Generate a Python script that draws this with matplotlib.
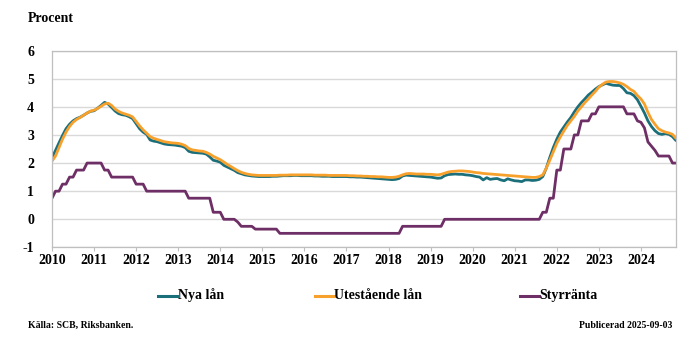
import matplotlib
matplotlib.use("Agg")
import matplotlib.pyplot as plt
from matplotlib.lines import Line2D
import numpy as np

# Monthly series, twelve values per row
nya_lan = [
    2.20, 2.45, 2.72, 2.98, 3.22, 3.38, 3.50, 3.58, 3.63, 3.70, 3.78, 3.84,
    3.86, 3.95, 4.05, 4.16, 4.10, 3.98, 3.85, 3.76, 3.72, 3.70, 3.65, 3.58,
    3.40, 3.22, 3.10, 3.02, 2.82, 2.78, 2.76, 2.72, 2.68, 2.66, 2.65, 2.64,
    2.62, 2.60, 2.55, 2.42, 2.38, 2.37, 2.36, 2.35, 2.32, 2.22, 2.10, 2.07,
    2.03, 1.92, 1.86, 1.80, 1.74, 1.66, 1.62, 1.58, 1.56, 1.54, 1.53, 1.52,
    1.52, 1.52, 1.52, 1.53, 1.53, 1.54, 1.55, 1.55, 1.55, 1.56, 1.56, 1.55,
    1.55, 1.55, 1.55, 1.54, 1.54, 1.53, 1.53, 1.53, 1.52, 1.52, 1.52, 1.52,
    1.52, 1.51, 1.51, 1.50, 1.50, 1.49, 1.48, 1.47, 1.46, 1.45, 1.44, 1.43,
    1.42, 1.41, 1.42, 1.45, 1.54, 1.57, 1.56, 1.55, 1.54, 1.53, 1.52, 1.51,
    1.50, 1.48, 1.46, 1.47, 1.55, 1.59, 1.60, 1.61, 1.60, 1.60, 1.58, 1.57,
    1.55, 1.52, 1.50, 1.40, 1.48, 1.42, 1.44, 1.45, 1.40, 1.37, 1.44, 1.40,
    1.37, 1.36, 1.34, 1.40, 1.40, 1.38, 1.39, 1.42, 1.52, 1.82, 2.20, 2.55,
    2.85, 3.10, 3.28, 3.46, 3.62, 3.82, 4.00, 4.15, 4.28, 4.42, 4.52, 4.63,
    4.72, 4.78, 4.84, 4.80, 4.77, 4.76, 4.76, 4.65, 4.50, 4.48, 4.40, 4.25,
    4.02, 3.78, 3.50, 3.30, 3.15, 3.05, 3.02, 3.05, 3.02, 2.94, 2.80,
]

utestaende_lan = [
    2.07, 2.25, 2.55, 2.85, 3.10, 3.30, 3.45, 3.55, 3.62, 3.70, 3.78, 3.85,
    3.88, 3.94, 4.02, 4.10, 4.13, 4.05, 3.92, 3.84, 3.78, 3.74, 3.70, 3.64,
    3.48, 3.32, 3.18, 3.06, 2.94, 2.88, 2.84, 2.80, 2.76, 2.74, 2.72, 2.71,
    2.70, 2.67, 2.62, 2.52, 2.47, 2.45, 2.43, 2.42, 2.38, 2.32, 2.24, 2.18,
    2.12, 2.04, 1.95, 1.88, 1.80, 1.73, 1.67, 1.63, 1.60, 1.58, 1.57, 1.56,
    1.56, 1.56, 1.56, 1.56, 1.56, 1.57, 1.57, 1.57, 1.58, 1.58, 1.58, 1.58,
    1.58, 1.58, 1.58, 1.57, 1.57, 1.57, 1.57, 1.56, 1.56, 1.56, 1.56, 1.56,
    1.56, 1.55, 1.55, 1.54, 1.54, 1.53, 1.53, 1.52, 1.52, 1.51, 1.51, 1.50,
    1.49, 1.49, 1.50, 1.53, 1.58, 1.62, 1.63, 1.62, 1.61, 1.61, 1.61, 1.60,
    1.60, 1.59, 1.58, 1.60, 1.64, 1.68, 1.70, 1.71, 1.72, 1.72, 1.71, 1.70,
    1.68, 1.66, 1.65, 1.63, 1.62, 1.61, 1.60, 1.59, 1.58, 1.57, 1.56, 1.55,
    1.54, 1.53, 1.52, 1.51, 1.50, 1.49, 1.49, 1.52, 1.58, 1.82, 2.10, 2.40,
    2.70, 2.93, 3.14, 3.34, 3.50, 3.66, 3.85, 4.00, 4.15, 4.28, 4.42, 4.55,
    4.70, 4.80, 4.88, 4.90, 4.90, 4.88, 4.85, 4.80, 4.72, 4.62, 4.55, 4.40,
    4.28, 4.10, 3.80, 3.55, 3.38, 3.22, 3.15, 3.10, 3.07, 3.02, 2.88,
]

styrranta = [
    0.75, 1.00, 1.00, 1.25, 1.25, 1.50, 1.50, 1.75, 1.75, 1.75, 2.00, 2.00,
    2.00, 2.00, 2.00, 1.75, 1.75, 1.50, 1.50, 1.50, 1.50, 1.50, 1.50, 1.50,
    1.25, 1.25, 1.25, 1.00, 1.00, 1.00, 1.00, 1.00, 1.00, 1.00, 1.00, 1.00,
    1.00, 1.00, 1.00, 0.75, 0.75, 0.75, 0.75, 0.75, 0.75, 0.75, 0.25, 0.25,
    0.25, 0.00, 0.00, 0.00, 0.00, -0.10, -0.25, -0.25, -0.25, -0.25, -0.35, -0.35,
    -0.35, -0.35, -0.35, -0.35, -0.35, -0.50, -0.50, -0.50, -0.50, -0.50, -0.50, -0.50,
    -0.50, -0.50, -0.50, -0.50, -0.50, -0.50, -0.50, -0.50, -0.50, -0.50, -0.50, -0.50,
    -0.50, -0.50, -0.50, -0.50, -0.50, -0.50, -0.50, -0.50, -0.50, -0.50, -0.50, -0.50,
    -0.50, -0.50, -0.50, -0.50, -0.25, -0.25, -0.25, -0.25, -0.25, -0.25, -0.25, -0.25,
    -0.25, -0.25, -0.25, -0.25, 0.00, 0.00, 0.00, 0.00, 0.00, 0.00, 0.00, 0.00,
    0.00, 0.00, 0.00, 0.00, 0.00, 0.00, 0.00, 0.00, 0.00, 0.00, 0.00, 0.00,
    0.00, 0.00, 0.00, 0.00, 0.00, 0.00, 0.00, 0.00, 0.25, 0.25, 0.75, 0.75,
    1.75, 1.75, 2.50, 2.50, 2.50, 3.00, 3.00, 3.50, 3.50, 3.50, 3.75, 3.75,
    4.00, 4.00, 4.00, 4.00, 4.00, 4.00, 4.00, 4.00, 3.75, 3.75, 3.75, 3.50,
    3.45, 3.25, 2.75, 2.60, 2.45, 2.25, 2.25, 2.25, 2.25, 2.00, 2.00,
]

year_labels = ["2010", "2011", "2012", "2013", "2014", "2015", "2016", "2017",
               "2018", "2019", "2020", "2021", "2022", "2023", "2024"]
y_ticks = [-1, 0, 1, 2, 3, 4, 5, 6]
series_names = ["Nya lån", "Utestående lån", "Styrränta"]

TEAL = "#1B6F7B"
ORANGE = "#F7A12C"
PURPLE = "#6E2E66"
FONT = "Liberation Serif"

plt.rcParams["font.family"] = [FONT, "DejaVu Serif"]
plt.rcParams["font.weight"] = "bold"

W, H = 691, 341
fig = plt.figure(figsize=(W / 100, H / 100), dpi=100)
ax = fig.add_axes([52 / W, (H - 247.4) / H, 624 / W, (247.4 - 50.6) / H])

x = np.arange(len(nya_lan))
line_kw = dict(linewidth=2.0, solid_joinstyle="round", solid_capstyle="round")
l1, = ax.plot(x, nya_lan, color=TEAL, **line_kw)
l2, = ax.plot(x, utestaende_lan, color=ORANGE, **line_kw)
l3, = ax.plot(x, styrranta, color=PURPLE, **line_kw)

ax.set_xlim(0, len(nya_lan) - 1)
ax.set_ylim(-1, 6)
ax.set_yticks(y_ticks)
ax.set_yticklabels([str(v) for v in y_ticks], fontsize=10, fontweight="bold")
ax.set_xticks(np.arange(len(year_labels)) * 12)
ax.set_xticklabels(year_labels, fontsize=10, fontweight="bold")
ax.tick_params(axis="y", length=0, pad=13)
ax.tick_params(axis="x", length=3, width=0.8, color="#BFBFBF", pad=2, direction="out")

ax.grid(axis="y", color="#D9D9D9", linewidth=1.0)
ax.set_axisbelow(True)
for side in ["left", "bottom", "right", "top"]:
    ax.spines[side].set_color("#BFBFBF")
    ax.spines[side].set_linewidth(0.9)

fig.text(28 / W, 1 - 18 / H, "Procent", fontsize=10, fontweight="bold",
         ha="left", va="center")

# Legend row below the axis
leg_y = 1 - 295.5 / H
handles = [(158, l1, series_names[0]), (315, l2, series_names[1]), (520, l3, series_names[2])]
for x0, ln, label in handles:
    fig.add_artist(Line2D([x0 / W, (x0 + 18.5) / W], [leg_y, leg_y],
                          color=ln.get_color(), linewidth=2.2,
                          transform=fig.transFigure))
    fig.text((x0 + 19.5) / W, leg_y, label, fontsize=10, fontweight="bold",
             ha="left", va="center")

fig.text(28 / W, 1 - 325 / H, "Källa: SCB, Riksbanken.", fontsize=7,
         fontweight="bold", ha="left", va="center")
fig.text(672 / W, 1 - 325 / H, "Publicerad 2025-09-03", fontsize=7,
         fontweight="bold", ha="right", va="center")

fig.savefig("out.png", dpi=100)
